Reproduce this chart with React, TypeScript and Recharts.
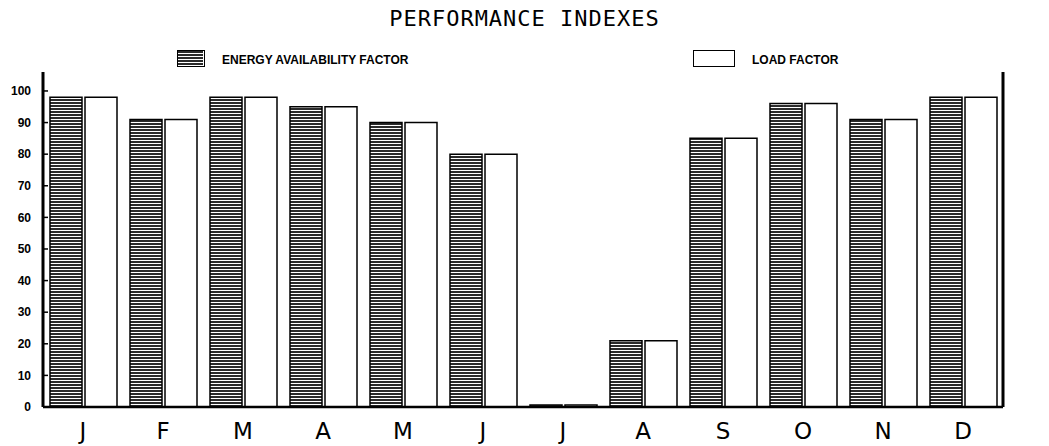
import { BarChart, Bar, XAxis, YAxis } from "recharts"

const months = ["J", "F", "M", "A", "M", "J", "J", "A", "S", "O", "N", "D"]
const energyAvailability = [98, 91, 98, 95, 90, 80, 0.6, 21, 85, 96, 91, 98]
const loadFactor = [98, 91, 98, 95, 90, 80, 0.6, 21, 85, 96, 91, 98]
const yTicks = [0, 10, 20, 30, 40, 50, 60, 70, 80, 90, 100]
const seriesNames = ["ENERGY AVAILABILITY FACTOR", "LOAD FACTOR"]

const data = months.map((m, i) => ({
  key: `${m}-${i}`,
  month: m,
  eaf: energyAvailability[i],
  lf: loadFactor[i],
}))

const tickFont = { fontSize: 12, fontWeight: 700, fill: "#000", fontFamily: "Liberation Sans, Arial, sans-serif" }
const legendFont = { fontFamily: "Liberation Sans, Arial, sans-serif", fontWeight: 700, fontSize: 12 }

export default function App() {
  return (
    <div style={{ position: "absolute", left: 0, top: 0, width: 1049, height: 446, background: "#fff" }}>
      <svg width={0} height={0} style={{ position: "absolute" }}>
        <defs>
          <pattern id="stripes" width={6} height={3} patternUnits="userSpaceOnUse">
            <rect width={6} height={3} fill="#fff" />
            <rect width={6} height={2} fill="#2a2a2a" />
          </pattern>
        </defs>
      </svg>
      <div
        style={{
          position: "absolute",
          left: 0,
          width: 1049,
          top: 6,
          textAlign: "center",
          fontFamily: "DejaVu Sans Mono, monospace",
          fontSize: 22,
          letterSpacing: 1,
        }}
      >
        PERFORMANCE INDEXES
      </div>
      <div style={{ position: "absolute", left: 177, top: 50, width: 28, height: 17, border: "1.5px solid #000", boxSizing: "border-box" }}>
        <svg width={25} height={14} style={{ display: "block" }}>
          <rect width={25} height={14} fill="url(#stripes)" />
        </svg>
      </div>
      <div style={{ position: "absolute", left: 222, top: 53, ...legendFont }}>{seriesNames[0]}</div>
      <div style={{ position: "absolute", left: 693, top: 50, width: 42, height: 17, border: "1.5px solid #000", boxSizing: "border-box", background: "#fff" }} />
      <div style={{ position: "absolute", left: 752, top: 53, ...legendFont }}>{seriesNames[1]}</div>
      <div style={{ position: "absolute", left: 0, top: 0 }}>
        <BarChart
          width={1049}
          height={446}
          data={data}
          margin={{ top: 72, right: 0, bottom: 9, left: 0 }}
          barCategoryGap={7}
          barGap={3}
        >
          <XAxis
            dataKey="key"
            tickFormatter={(_v, i) => months[i]}
            axisLine={{ stroke: "#000", strokeWidth: 2.5 }}
            tickLine={false}
            tickMargin={10}
            height={30}
            interval={0}
            tick={{ fontSize: 23, fill: "#000", fontFamily: "DejaVu Sans, sans-serif" }}
          />
          <YAxis
            yAxisId="left"
            orientation="left"
            width={43}
            domain={[0, 106]}
            ticks={yTicks}
            interval={0}
            axisLine={{ stroke: "#000", strokeWidth: 3 }}
            tickLine={{ stroke: "#000", strokeWidth: 1.5 }}
            tickSize={-5}
            tickMargin={17}
            tick={tickFont}
          />
          <YAxis
            yAxisId="right"
            orientation="right"
            width={46}
            domain={[0, 106]}
            ticks={yTicks}
            interval={0}
            axisLine={{ stroke: "#000", strokeWidth: 3 }}
            tickLine={{ stroke: "#000", strokeWidth: 1.5 }}
            tickSize={-5}
            tickMargin={20}
            tick={{ ...tickFont, textAnchor: "start" }}
          />
          <Bar
            yAxisId="left"
            dataKey="eaf"
            name={seriesNames[0]}
            fill="url(#stripes)"
            stroke="#000"
            strokeWidth={1.5}
            isAnimationActive={false}
          />
          <Bar
            yAxisId="left"
            dataKey="lf"
            name={seriesNames[1]}
            fill="#fff"
            stroke="#000"
            strokeWidth={1.5}
            isAnimationActive={false}
          />
        </BarChart>
      </div>
    </div>
  )
}
